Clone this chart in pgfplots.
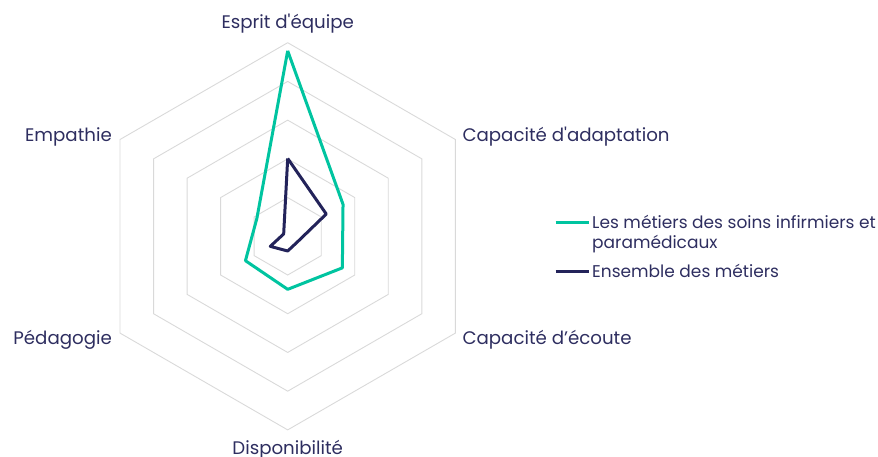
\documentclass[border=0pt]{standalone}
\usepackage{fontspec}
\setmainfont{Poppins}
\usepackage{pgfplots}
\pgfplotsset{compat=1.18}
\usepgfplotslibrary{polar}
\usetikzlibrary{calc}

\definecolor{soins}{RGB}{0,196,160}
\definecolor{ensemble}{RGB}{35,35,90}
\definecolor{grille}{RGB}{217,217,217}
\definecolor{texte}{RGB}{46,46,96}
\tikzset{lab/.style={text=texte, font=\fontsize{18.2}{21}\selectfont, inner sep=0pt}}

\begin{document}
\begin{tikzpicture}
\begin{polaraxis}[
    hide axis,
    clip=false,
    scale only axis,
    width=387.2pt, height=387.2pt,
    ymin=0, ymax=5,
    legend style={at={(axis description cs:1.18,0.565)}, anchor=north west,
        draw=none, fill=none, text=texte,
        font=\fontsize{17}{20}\selectfont,
        cells={align=left}, row sep=10pt},
    legend cell align=left,
    legend image code/.code={\draw[#1] (0pt,0pt) -- (33pt,0pt);},
]
% grille hexagonale
\addplot[grille, line width=0.9pt, forget plot] coordinates {(90,1)(30,1)(330,1)(270,1)(210,1)(150,1)(90,1)};
\addplot[grille, line width=0.9pt, forget plot] coordinates {(90,2)(30,2)(330,2)(270,2)(210,2)(150,2)(90,2)};
\addplot[grille, line width=0.9pt, forget plot] coordinates {(90,3)(30,3)(330,3)(270,3)(210,3)(150,3)(90,3)};
\addplot[grille, line width=0.9pt, forget plot] coordinates {(90,4)(30,4)(330,4)(270,4)(210,4)(150,4)(90,4)};
\addplot[grille, line width=0.9pt, forget plot] coordinates {(90,5)(30,5)(330,5)(270,5)(210,5)(150,5)(90,5)};

% Les metiers des soins infirmiers et paramedicaux
\addplot[soins, line width=3pt, line join=round, no marks,
    legend image code/.code={\draw[soins, line width=3pt] (0pt,10pt) -- (33pt,10pt);}] coordinates {
    (90,4.79) (30,1.65) (330,1.63) (270,1.37) (210,1.26) (150,0.92) (90,4.79)
};
\addlegendentry{Les métiers des soins infirmiers et\\paramédicaux}

% Ensemble des metiers
\addplot[ensemble, line width=3pt, line join=round, no marks] coordinates {
    (90,2.01) (30,1.15) (330,0.29) (270,0.38) (210,0.52) (150,0.12) (90,2.01)
};
\addlegendentry{Ensemble des métiers}

\node[lab, anchor=base, yshift=13.7pt] at (axis cs:90,5) {Esprit d\textquotesingle équipe};
\node[lab, anchor=base west, xshift=7pt, yshift=-2pt] at (axis cs:30,5) {Capacité d\textquotesingle adaptation};
\node[lab, anchor=base west, xshift=7pt, yshift=-11pt] at (axis cs:330,5) {Capacité d’écoute};
\node[lab, anchor=base, yshift=-25pt] at (axis cs:270,5) {Disponibilité};
\node[lab, anchor=base east, xshift=-8pt, yshift=-11pt] at (axis cs:210,5) {Pédagogie};
\node[lab, anchor=base east, xshift=-8pt, yshift=-2.5pt] at (axis cs:150,5) {Empathie};

\coordinate (c) at (axis cs:0,0);
\end{polaraxis}
\pgfresetboundingbox
\path ($(c)+(-287.7pt,236.3pt)$) rectangle ($(c)+(590.3pt,-220.7pt)$);
\end{tikzpicture}
\end{document}
